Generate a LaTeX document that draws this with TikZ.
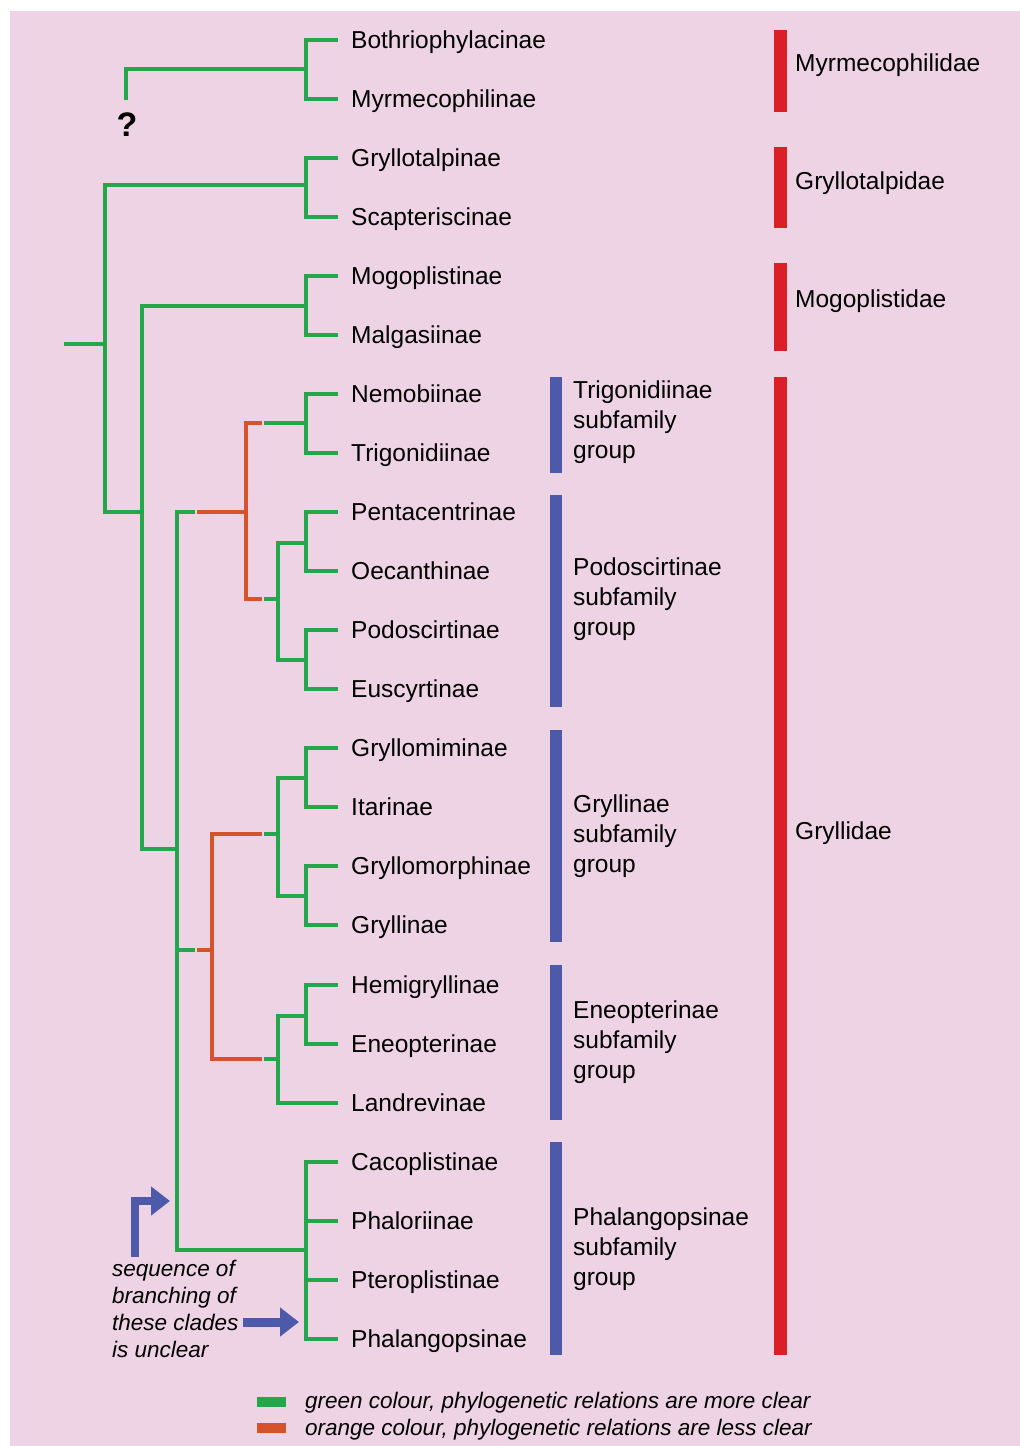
\documentclass[tikz,border=0pt]{standalone}
\usepackage{fontspec}
\setmainfont{Liberation Sans}
\usetikzlibrary{arrows.meta}
\definecolor{bgpink}{RGB}{238,211,229}
\definecolor{grn}{RGB}{34,168,74}
\definecolor{org}{RGB}{213,83,43}
\definecolor{blu}{RGB}{77,90,169}
\definecolor{redb}{RGB}{218,31,38}
\tikzset{
  gl/.style={draw=grn,line width=4pt},
  ol/.style={draw=org,line width=4pt},
  leaf/.style={anchor=west,inner xsep=13pt,inner ysep=0pt,text height=17.5pt,text depth=0pt,font=\fontsize{24.5}{30}\selectfont},
  lbl/.style={anchor=west,inner sep=0pt,text height=17.5pt,text depth=0pt,font=\fontsize{24.5}{30}\selectfont},
  itl/.style={anchor=west,inner sep=0pt,text height=15.8pt,text depth=0pt,font=\fontsize{22.5}{27}\selectfont\itshape},
  bluebar/.style={fill=blu},
  redbar/.style={fill=redb},
  barrow/.style={draw=blu,-{Triangle[length=19pt,width=28pt]}}
}
\begin{document}
\begin{tikzpicture}[x=1pt,y=-1pt]
\useasboundingbox (0,0) rectangle (1020,1446);
\fill[bgpink] (10,11) rectangle (1020,1446);

% leaves
\node[leaf] (b1) at (338,40) {Bothriophylacinae};
\node[leaf] (b2) at (338,99) {Myrmecophilinae};
\node[leaf] (b3) at (338,158) {Gryllotalpinae};
\node[leaf] (b4) at (338,217) {Scapteriscinae};
\node[leaf] (b5) at (338,276) {Mogoplistinae};
\node[leaf] (b6) at (338,335) {Malgasiinae};
\node[leaf] (b7) at (338,394) {Nemobiinae};
\node[leaf] (b8) at (338,453) {Trigonidiinae};
\node[leaf] (b9) at (338,512) {Pentacentrinae};
\node[leaf] (b10) at (338,571) {Oecanthinae};
\node[leaf] (b11) at (338,630) {Podoscirtinae};
\node[leaf] (b12) at (338,689) {Euscyrtinae};
\node[leaf] (b13) at (338,748) {Gryllomiminae};
\node[leaf] (b14) at (338,807) {Itarinae};
\node[leaf] (b15) at (338,866) {Gryllomorphinae};
\node[leaf] (b16) at (338,925) {Gryllinae};
\node[leaf] (b17) at (338,985) {Hemigryllinae};
\node[leaf] (b18) at (338,1044) {Eneopterinae};
\node[leaf] (b19) at (338,1103) {Landrevinae};
\node[leaf] (b20) at (338,1162) {Cacoplistinae};
\node[leaf] (b21) at (338,1221) {Phaloriinae};
\node[leaf] (b22) at (338,1280) {Pteroplistinae};
\node[leaf] (b23) at (338,1339) {Phalangopsinae};

% junctions
\coordinate (j1) at (306,69);
\coordinate (j2) at (306,185);
\coordinate (j3) at (306,306);
\coordinate (j4) at (306,423);
\coordinate (j5) at (306,543);
\coordinate (j6) at (306,660);
\coordinate (j7) at (306,778);
\coordinate (j8) at (306,896);
\coordinate (j9) at (306,1016);
\coordinate (j10) at (306,1250);
\coordinate (q) at (126,100);
\coordinate (root) at (64,344);

% question mark
\node[inner sep=0pt,font=\fontsize{34}{34}\selectfont\bfseries] (qm) at (127,125) {?};

% brackets to leaves
\draw[gl] (b1.west) -| (j1) |- (b2.west);
\draw[gl] (b3.west) -| (j2) |- (b4.west);
\draw[gl] (b5.west) -| (j3) |- (b6.west);
\draw[gl] (b7.west) -| (j4) |- (b8.west);
\draw[gl] (b9.west) -| (j5) |- (b10.west);
\draw[gl] (b11.west) -| (j6) |- (b12.west);
\draw[gl] (b13.west) -| (j7) |- (b14.west);
\draw[gl] (b15.west) -| (j8) |- (b16.west);
\draw[gl] (b17.west) -| (j9) |- (b18.west);
\draw[gl] (b20.west) -| (j10) |- (b23.west);
\draw[gl] (b21.west) -- (b21.west -| j10);
\draw[gl] (b22.west) -- (b22.west -| j10);

% backbone
\draw[gl] (j1) -| (q);
\draw[gl] (root) -- (105,344);
\draw[gl] (j2) -| (105,512) -- (142,512);
\draw[gl] (j3) -| (142,849) -- (177,849);
\draw[gl] (195,512) -| (177,1250) -- (j10);

% Trigonidiinae + Podoscirtinae groups
\draw[ol] (197,512) -- (246,512);
\draw[ol] (262,423) -| (246,599) -- (262,599);
\draw[gl] (264,423) -- (j4);
\draw[gl] (264,599) -- (278,599);
\draw[gl] (j5) -| (278,660) -- (j6);

% Gryllinae + Eneopterinae groups
\draw[gl] (177,950) -- (195,950);
\draw[ol] (197,950) -- (212,950);
\draw[ol] (262,834) -| (212,1059) -- (262,1059);
\draw[gl] (264,834) -- (278,834);
\draw[gl] (j7) -| (278,896) -- (j8);
\draw[gl] (264,1059) -- (278,1059);
\draw[gl] (j9) -| (278,1103) -- (b19.west);

% blue bars
\fill[bluebar] (550,377) rectangle (562,473);
\fill[bluebar] (550,495) rectangle (562,707);
\fill[bluebar] (550,730) rectangle (562,942);
\fill[bluebar] (550,965) rectangle (562,1120);
\fill[bluebar] (550,1142) rectangle (562,1355);

\node[lbl] (g1a) at (573,390) {Trigonidiinae};
\node[lbl] (g1b) at (573,420) {subfamily};
\node[lbl] (g1c) at (573,450) {group};
\node[lbl] (g2a) at (573,567) {Podoscirtinae};
\node[lbl] (g2b) at (573,597) {subfamily};
\node[lbl] (g2c) at (573,627) {group};
\node[lbl] (g3a) at (573,804) {Gryllinae};
\node[lbl] (g3b) at (573,834) {subfamily};
\node[lbl] (g3c) at (573,864) {group};
\node[lbl] (g4a) at (573,1010) {Eneopterinae};
\node[lbl] (g4b) at (573,1040) {subfamily};
\node[lbl] (g4c) at (573,1070) {group};
\node[lbl] (g5a) at (573,1217) {Phalangopsinae};
\node[lbl] (g5b) at (573,1247) {subfamily};
\node[lbl] (g5c) at (573,1277) {group};

% red bars
\fill[redbar] (774,30) rectangle (787,112);
\fill[redbar] (774,147) rectangle (787,228);
\fill[redbar] (774,263) rectangle (787,351);
\fill[redbar] (774,377) rectangle (787,1355);
\node[lbl] (f1) at (795,63) {Myrmecophilidae};
\node[lbl] (f2) at (795,181) {Gryllotalpidae};
\node[lbl] (f3) at (795,299) {Mogoplistidae};
\node[lbl] (f4) at (795,831) {Gryllidae};

% blue arrows and note
\coordinate (a1s) at (135,1257);
\coordinate (a1e) at (170,1201);
\coordinate (a2s) at (243,1322);
\coordinate (a2e) at (299,1322);
\draw[barrow,line width=8pt] (a1s) |- (a1e);
\draw[barrow,line width=9pt] (a2s) -- (a2e);
\node[itl] (n1) at (112,1269) {sequence of};
\node[itl] (n2) at (112,1296) {branching of};
\node[itl] (n3) at (112,1323) {these clades};
\node[itl] (n4) at (112,1350) {is unclear};

% legend
\fill[grn] (257,1397) rectangle (286,1407);
\fill[org] (257,1423) rectangle (286,1433);
\node[itl] (l1) at (305,1401) {green colour, phylogenetic relations are more clear};
\node[itl] (l2) at (305,1428) {orange colour, phylogenetic relations are less clear};
\end{tikzpicture}
\end{document}
